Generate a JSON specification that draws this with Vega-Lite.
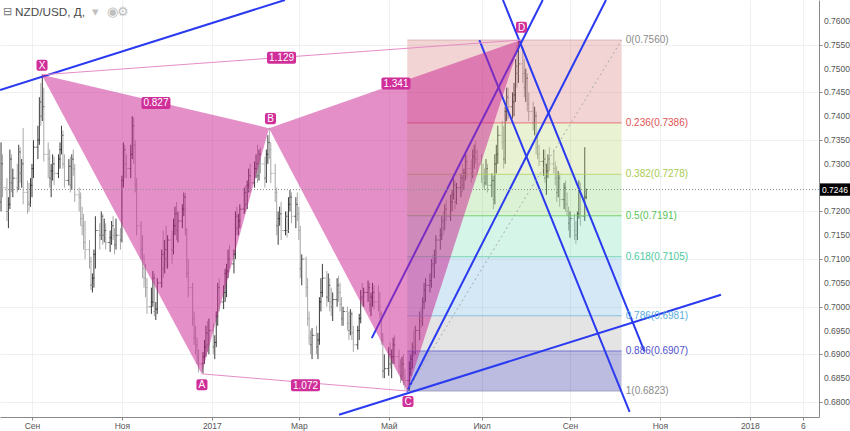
{
"$schema":"https://vega.github.io/schema/vega-lite/v6.json",
"width":819,"height":417,
"autosize":{"type":"none"},
"padding":{"left":0,"top":0,"right":31,"bottom":14},
"background":"#ffffff",
"config":{"view":{"stroke":null},"font":"Liberation Sans"},
"datasets":{
"bars":[
{"d":"2016-08-11","o":0.7220,"h":0.7345,"l":0.7200,"c":0.7300},
{"d":"2016-08-12","o":0.7300,"h":0.7320,"l":0.7230,"c":0.7250},
{"d":"2016-08-15","o":0.7250,"h":0.7270,"l":0.7180,"c":0.7200},
{"d":"2016-08-16","o":0.7200,"h":0.7230,"l":0.7165,"c":0.7215},
{"d":"2016-08-17","o":0.7215,"h":0.7330,"l":0.7205,"c":0.7310},
{"d":"2016-08-18","o":0.7310,"h":0.7320,"l":0.7240,"c":0.7260},
{"d":"2016-08-19","o":0.7260,"h":0.7290,"l":0.7230,"c":0.7270},
{"d":"2016-08-22","o":0.7270,"h":0.7300,"l":0.7240,"c":0.7250},
{"d":"2016-08-23","o":0.7250,"h":0.7340,"l":0.7245,"c":0.7325},
{"d":"2016-08-24","o":0.7325,"h":0.7335,"l":0.7260,"c":0.7280},
{"d":"2016-08-25","o":0.7280,"h":0.7310,"l":0.7250,"c":0.7300},
{"d":"2016-08-26","o":0.7300,"h":0.7375,"l":0.7215,"c":0.7240},
{"d":"2016-08-29","o":0.7240,"h":0.7265,"l":0.7195,"c":0.7220},
{"d":"2016-08-30","o":0.7220,"h":0.7260,"l":0.7200,"c":0.7215},
{"d":"2016-08-31","o":0.7215,"h":0.7270,"l":0.7210,"c":0.7255},
{"d":"2016-09-01","o":0.7255,"h":0.7300,"l":0.7230,"c":0.7290},
{"d":"2016-09-02","o":0.7290,"h":0.7350,"l":0.7270,"c":0.7335},
{"d":"2016-09-05","o":0.7335,"h":0.7380,"l":0.7310,"c":0.7350},
{"d":"2016-09-06","o":0.7350,"h":0.7440,"l":0.7340,"c":0.7430},
{"d":"2016-09-07","o":0.7430,"h":0.7470,"l":0.7380,"c":0.7400},
{"d":"2016-09-08","o":0.7400,"h":0.7488,"l":0.7390,"c":0.7420},
{"d":"2016-09-09","o":0.7420,"h":0.7460,"l":0.7305,"c":0.7320},
{"d":"2016-09-12","o":0.7320,"h":0.7345,"l":0.7270,"c":0.7310},
{"d":"2016-09-13","o":0.7310,"h":0.7330,"l":0.7250,"c":0.7270},
{"d":"2016-09-14","o":0.7270,"h":0.7300,"l":0.7230,"c":0.7285},
{"d":"2016-09-15","o":0.7285,"h":0.7320,"l":0.7265,"c":0.7300},
{"d":"2016-09-16","o":0.7300,"h":0.7315,"l":0.7255,"c":0.7280},
{"d":"2016-09-19","o":0.7280,"h":0.7320,"l":0.7270,"c":0.7310},
{"d":"2016-09-20","o":0.7310,"h":0.7345,"l":0.7290,"c":0.7330},
{"d":"2016-09-21","o":0.7330,"h":0.7380,"l":0.7320,"c":0.7360},
{"d":"2016-09-22","o":0.7360,"h":0.7370,"l":0.7290,"c":0.7300},
{"d":"2016-09-23","o":0.7300,"h":0.7320,"l":0.7250,"c":0.7265},
{"d":"2016-09-26","o":0.7265,"h":0.7310,"l":0.7255,"c":0.7295},
{"d":"2016-09-27","o":0.7295,"h":0.7315,"l":0.7240,"c":0.7255},
{"d":"2016-09-28","o":0.7255,"h":0.7320,"l":0.7245,"c":0.7310},
{"d":"2016-09-29","o":0.7310,"h":0.7330,"l":0.7275,"c":0.7290},
{"d":"2016-09-30","o":0.7290,"h":0.7300,"l":0.7220,"c":0.7235},
{"d":"2016-10-03","o":0.7235,"h":0.7250,"l":0.7200,"c":0.7230},
{"d":"2016-10-04","o":0.7230,"h":0.7240,"l":0.7170,"c":0.7185},
{"d":"2016-10-05","o":0.7185,"h":0.7210,"l":0.7150,"c":0.7170},
{"d":"2016-10-06","o":0.7170,"h":0.7195,"l":0.7120,"c":0.7135},
{"d":"2016-10-07","o":0.7135,"h":0.7180,"l":0.7100,"c":0.7120},
{"d":"2016-10-10","o":0.7120,"h":0.7140,"l":0.7080,"c":0.7095},
{"d":"2016-10-11","o":0.7095,"h":0.7105,"l":0.7035,"c":0.7045},
{"d":"2016-10-12","o":0.7045,"h":0.7070,"l":0.7030,"c":0.7060},
{"d":"2016-10-13","o":0.7060,"h":0.7120,"l":0.7040,"c":0.7110},
{"d":"2016-10-14","o":0.7110,"h":0.7190,"l":0.7080,"c":0.7160},
{"d":"2016-10-17","o":0.7160,"h":0.7175,"l":0.7120,"c":0.7150},
{"d":"2016-10-18","o":0.7150,"h":0.7200,"l":0.7140,"c":0.7190},
{"d":"2016-10-19","o":0.7190,"h":0.7195,"l":0.7130,"c":0.7150},
{"d":"2016-10-20","o":0.7150,"h":0.7185,"l":0.7135,"c":0.7160},
{"d":"2016-10-21","o":0.7160,"h":0.7175,"l":0.7120,"c":0.7135},
{"d":"2016-10-24","o":0.7135,"h":0.7160,"l":0.7115,"c":0.7145},
{"d":"2016-10-25","o":0.7145,"h":0.7180,"l":0.7130,"c":0.7170},
{"d":"2016-10-26","o":0.7170,"h":0.7190,"l":0.7140,"c":0.7150},
{"d":"2016-10-27","o":0.7150,"h":0.7165,"l":0.7110,"c":0.7130},
{"d":"2016-10-28","o":0.7130,"h":0.7185,"l":0.7120,"c":0.7150},
{"d":"2016-10-31","o":0.7150,"h":0.7165,"l":0.7120,"c":0.7140},
{"d":"2016-11-01","o":0.7140,"h":0.7275,"l":0.7135,"c":0.7265},
{"d":"2016-11-02","o":0.7265,"h":0.7345,"l":0.7250,"c":0.7330},
{"d":"2016-11-03","o":0.7330,"h":0.7340,"l":0.7270,"c":0.7300},
{"d":"2016-11-04","o":0.7300,"h":0.7320,"l":0.7270,"c":0.7290},
{"d":"2016-11-07","o":0.7290,"h":0.7340,"l":0.7270,"c":0.7320},
{"d":"2016-11-08","o":0.7320,"h":0.7400,"l":0.7310,"c":0.7380},
{"d":"2016-11-09","o":0.7380,"h":0.7398,"l":0.7300,"c":0.7340},
{"d":"2016-11-10","o":0.7340,"h":0.7350,"l":0.7240,"c":0.7255},
{"d":"2016-11-11","o":0.7255,"h":0.7270,"l":0.7150,"c":0.7170},
{"d":"2016-11-14","o":0.7170,"h":0.7180,"l":0.7100,"c":0.7120},
{"d":"2016-11-15","o":0.7120,"h":0.7150,"l":0.7060,"c":0.7080},
{"d":"2016-11-16","o":0.7080,"h":0.7110,"l":0.7040,"c":0.7060},
{"d":"2016-11-17","o":0.7060,"h":0.7090,"l":0.7020,"c":0.7040},
{"d":"2016-11-18","o":0.7040,"h":0.7060,"l":0.6985,"c":0.7000},
{"d":"2016-11-21","o":0.7000,"h":0.7040,"l":0.6985,"c":0.7010},
{"d":"2016-11-22","o":0.7010,"h":0.7075,"l":0.7000,"c":0.7060},
{"d":"2016-11-23","o":0.7060,"h":0.7070,"l":0.6980,"c":0.6990},
{"d":"2016-11-24","o":0.6990,"h":0.7010,"l":0.6972,"c":0.6995},
{"d":"2016-11-25","o":0.6995,"h":0.7060,"l":0.6985,"c":0.7050},
{"d":"2016-11-28","o":0.7050,"h":0.7120,"l":0.7040,"c":0.7110},
{"d":"2016-11-29","o":0.7110,"h":0.7160,"l":0.7060,"c":0.7080},
{"d":"2016-11-30","o":0.7080,"h":0.7140,"l":0.7070,"c":0.7120},
{"d":"2016-12-01","o":0.7120,"h":0.7170,"l":0.7080,"c":0.7100},
{"d":"2016-12-02","o":0.7100,"h":0.7150,"l":0.7080,"c":0.7140},
{"d":"2016-12-05","o":0.7140,"h":0.7160,"l":0.7090,"c":0.7120},
{"d":"2016-12-06","o":0.7120,"h":0.7185,"l":0.7110,"c":0.7170},
{"d":"2016-12-07","o":0.7170,"h":0.7210,"l":0.7150,"c":0.7195},
{"d":"2016-12-08","o":0.7195,"h":0.7220,"l":0.7140,"c":0.7160},
{"d":"2016-12-09","o":0.7160,"h":0.7200,"l":0.7135,"c":0.7180},
{"d":"2016-12-12","o":0.7180,"h":0.7215,"l":0.7165,"c":0.7205},
{"d":"2016-12-13","o":0.7205,"h":0.7240,"l":0.7190,"c":0.7230},
{"d":"2016-12-14","o":0.7230,"h":0.7238,"l":0.7150,"c":0.7160},
{"d":"2016-12-15","o":0.7160,"h":0.7165,"l":0.7060,"c":0.7070},
{"d":"2016-12-16","o":0.7070,"h":0.7100,"l":0.7020,"c":0.7040},
{"d":"2016-12-19","o":0.7040,"h":0.7050,"l":0.6960,"c":0.6975},
{"d":"2016-12-20","o":0.6975,"h":0.6990,"l":0.6920,"c":0.6935},
{"d":"2016-12-21","o":0.6935,"h":0.6960,"l":0.6900,"c":0.6920},
{"d":"2016-12-22","o":0.6920,"h":0.6935,"l":0.6880,"c":0.6895},
{"d":"2016-12-23","o":0.6895,"h":0.6910,"l":0.6862,"c":0.6880},
{"d":"2016-12-26","o":0.6880,"h":0.6905,"l":0.6860,"c":0.6895},
{"d":"2016-12-27","o":0.6895,"h":0.6930,"l":0.6880,"c":0.6915},
{"d":"2016-12-28","o":0.6915,"h":0.6960,"l":0.6895,"c":0.6945},
{"d":"2016-12-29","o":0.6945,"h":0.6970,"l":0.6905,"c":0.6920},
{"d":"2016-12-30","o":0.6920,"h":0.6975,"l":0.6900,"c":0.6950},
{"d":"2017-01-02","o":0.6950,"h":0.6965,"l":0.6900,"c":0.6915},
{"d":"2017-01-03","o":0.6915,"h":0.6940,"l":0.6890,"c":0.6925},
{"d":"2017-01-04","o":0.6925,"h":0.6990,"l":0.6915,"c":0.6980},
{"d":"2017-01-05","o":0.6980,"h":0.7050,"l":0.6960,"c":0.7040},
{"d":"2017-01-06","o":0.7040,"h":0.7060,"l":0.6990,"c":0.7010},
{"d":"2017-01-09","o":0.7010,"h":0.7045,"l":0.6995,"c":0.7030},
{"d":"2017-01-10","o":0.7030,"h":0.7080,"l":0.7010,"c":0.7070},
{"d":"2017-01-11","o":0.7070,"h":0.7090,"l":0.7020,"c":0.7075},
{"d":"2017-01-12","o":0.7075,"h":0.7120,"l":0.7060,"c":0.7100},
{"d":"2017-01-13","o":0.7100,"h":0.7130,"l":0.7080,"c":0.7090},
{"d":"2017-01-16","o":0.7090,"h":0.7120,"l":0.7070,"c":0.7110},
{"d":"2017-01-17","o":0.7110,"h":0.7200,"l":0.7100,"c":0.7190},
{"d":"2017-01-18","o":0.7190,"h":0.7210,"l":0.7150,"c":0.7165},
{"d":"2017-01-19","o":0.7165,"h":0.7195,"l":0.7150,"c":0.7180},
{"d":"2017-01-20","o":0.7180,"h":0.7215,"l":0.7165,"c":0.7205},
{"d":"2017-01-23","o":0.7205,"h":0.7250,"l":0.7195,"c":0.7240},
{"d":"2017-01-24","o":0.7240,"h":0.7255,"l":0.7200,"c":0.7215},
{"d":"2017-01-25","o":0.7215,"h":0.7265,"l":0.7205,"c":0.7255},
{"d":"2017-01-26","o":0.7255,"h":0.7290,"l":0.7240,"c":0.7275},
{"d":"2017-01-27","o":0.7275,"h":0.7300,"l":0.7240,"c":0.7260},
{"d":"2017-01-30","o":0.7260,"h":0.7305,"l":0.7250,"c":0.7290},
{"d":"2017-01-31","o":0.7290,"h":0.7320,"l":0.7270,"c":0.7300},
{"d":"2017-02-01","o":0.7300,"h":0.7340,"l":0.7260,"c":0.7275},
{"d":"2017-02-02","o":0.7275,"h":0.7330,"l":0.7265,"c":0.7320},
{"d":"2017-02-03","o":0.7320,"h":0.7335,"l":0.7280,"c":0.7300},
{"d":"2017-02-06","o":0.7300,"h":0.7315,"l":0.7250,"c":0.7270},
{"d":"2017-02-07","o":0.7270,"h":0.7330,"l":0.7260,"c":0.7320},
{"d":"2017-02-08","o":0.7320,"h":0.7360,"l":0.7300,"c":0.7345},
{"d":"2017-02-09","o":0.7345,"h":0.7376,"l":0.7310,"c":0.7330},
{"d":"2017-02-10","o":0.7330,"h":0.7345,"l":0.7260,"c":0.7280},
{"d":"2017-02-13","o":0.7280,"h":0.7300,"l":0.7220,"c":0.7240},
{"d":"2017-02-14","o":0.7240,"h":0.7250,"l":0.7150,"c":0.7170},
{"d":"2017-02-15","o":0.7170,"h":0.7200,"l":0.7130,"c":0.7185},
{"d":"2017-02-16","o":0.7185,"h":0.7210,"l":0.7170,"c":0.7195},
{"d":"2017-02-17","o":0.7195,"h":0.7220,"l":0.7140,"c":0.7160},
{"d":"2017-02-20","o":0.7160,"h":0.7200,"l":0.7150,"c":0.7190},
{"d":"2017-02-21","o":0.7190,"h":0.7200,"l":0.7145,"c":0.7160},
{"d":"2017-02-22","o":0.7160,"h":0.7230,"l":0.7155,"c":0.7215},
{"d":"2017-02-23","o":0.7215,"h":0.7245,"l":0.7200,"c":0.7230},
{"d":"2017-02-24","o":0.7230,"h":0.7240,"l":0.7175,"c":0.7190},
{"d":"2017-02-27","o":0.7190,"h":0.7230,"l":0.7165,"c":0.7215},
{"d":"2017-02-28","o":0.7215,"h":0.7240,"l":0.7180,"c":0.7195},
{"d":"2017-03-01","o":0.7195,"h":0.7210,"l":0.7140,"c":0.7160},
{"d":"2017-03-02","o":0.7160,"h":0.7170,"l":0.7060,"c":0.7080},
{"d":"2017-03-03","o":0.7080,"h":0.7110,"l":0.7045,"c":0.7100},
{"d":"2017-03-06","o":0.7100,"h":0.7105,"l":0.7020,"c":0.7040},
{"d":"2017-03-07","o":0.7040,"h":0.7060,"l":0.6960,"c":0.6975},
{"d":"2017-03-08","o":0.6975,"h":0.6990,"l":0.6920,"c":0.6935},
{"d":"2017-03-09","o":0.6935,"h":0.6950,"l":0.6900,"c":0.6920},
{"d":"2017-03-10","o":0.6920,"h":0.6955,"l":0.6890,"c":0.6940},
{"d":"2017-03-13","o":0.6940,"h":0.6960,"l":0.6900,"c":0.6915},
{"d":"2017-03-14","o":0.6915,"h":0.6945,"l":0.6890,"c":0.6930},
{"d":"2017-03-15","o":0.6930,"h":0.7020,"l":0.6920,"c":0.7010},
{"d":"2017-03-16","o":0.7010,"h":0.7060,"l":0.6990,"c":0.7030},
{"d":"2017-03-17","o":0.7030,"h":0.7090,"l":0.7020,"c":0.7060},
{"d":"2017-03-20","o":0.7060,"h":0.7075,"l":0.7000,"c":0.7020},
{"d":"2017-03-21","o":0.7020,"h":0.7070,"l":0.7010,"c":0.7045},
{"d":"2017-03-22","o":0.7045,"h":0.7060,"l":0.6990,"c":0.7010},
{"d":"2017-03-23","o":0.7010,"h":0.7040,"l":0.6980,"c":0.7000},
{"d":"2017-03-24","o":0.7000,"h":0.7030,"l":0.6970,"c":0.7015},
{"d":"2017-03-27","o":0.7015,"h":0.7060,"l":0.7000,"c":0.7045},
{"d":"2017-03-28","o":0.7045,"h":0.7065,"l":0.7010,"c":0.7030},
{"d":"2017-03-29","o":0.7030,"h":0.7050,"l":0.6990,"c":0.7005},
{"d":"2017-03-30","o":0.7005,"h":0.7020,"l":0.6960,"c":0.6975},
{"d":"2017-03-31","o":0.6975,"h":0.7000,"l":0.6960,"c":0.6990},
{"d":"2017-04-03","o":0.6990,"h":0.7000,"l":0.6950,"c":0.6965},
{"d":"2017-04-04","o":0.6965,"h":0.6990,"l":0.6930,"c":0.6950},
{"d":"2017-04-05","o":0.6950,"h":0.6995,"l":0.6940,"c":0.6985},
{"d":"2017-04-06","o":0.6985,"h":0.6990,"l":0.6930,"c":0.6945},
{"d":"2017-04-07","o":0.6945,"h":0.6960,"l":0.6905,"c":0.6920},
{"d":"2017-04-10","o":0.6920,"h":0.6960,"l":0.6910,"c":0.6950},
{"d":"2017-04-11","o":0.6950,"h":0.6985,"l":0.6930,"c":0.6975},
{"d":"2017-04-12","o":0.6975,"h":0.7035,"l":0.6965,"c":0.7020},
{"d":"2017-04-13","o":0.7020,"h":0.7050,"l":0.7000,"c":0.7015},
{"d":"2017-04-14","o":0.7015,"h":0.7040,"l":0.7000,"c":0.7030},
{"d":"2017-04-17","o":0.7030,"h":0.7055,"l":0.7010,"c":0.7040},
{"d":"2017-04-18","o":0.7040,"h":0.7050,"l":0.6990,"c":0.7005},
{"d":"2017-04-19","o":0.7005,"h":0.7030,"l":0.6980,"c":0.7020},
{"d":"2017-04-20","o":0.7020,"h":0.7050,"l":0.7000,"c":0.7030},
{"d":"2017-04-21","o":0.7030,"h":0.7045,"l":0.6995,"c":0.7010},
{"d":"2017-04-24","o":0.7010,"h":0.7045,"l":0.6990,"c":0.7000},
{"d":"2017-04-25","o":0.7000,"h":0.7030,"l":0.6975,"c":0.6985},
{"d":"2017-04-26","o":0.6985,"h":0.6990,"l":0.6920,"c":0.6930},
{"d":"2017-04-27","o":0.6930,"h":0.6945,"l":0.6850,"c":0.6865},
{"d":"2017-04-28","o":0.6865,"h":0.6900,"l":0.6850,"c":0.6870},
{"d":"2017-05-01","o":0.6870,"h":0.6915,"l":0.6855,"c":0.6900},
{"d":"2017-05-02","o":0.6900,"h":0.6925,"l":0.6870,"c":0.6880},
{"d":"2017-05-03","o":0.6880,"h":0.6910,"l":0.6850,"c":0.6895},
{"d":"2017-05-04","o":0.6895,"h":0.6935,"l":0.6880,"c":0.6920},
{"d":"2017-05-05","o":0.6920,"h":0.6940,"l":0.6880,"c":0.6895},
{"d":"2017-05-08","o":0.6895,"h":0.6910,"l":0.6860,"c":0.6875},
{"d":"2017-05-09","o":0.6875,"h":0.6890,"l":0.6840,"c":0.6855},
{"d":"2017-05-10","o":0.6855,"h":0.6895,"l":0.6845,"c":0.6880},
{"d":"2017-05-11","o":0.6880,"h":0.6900,"l":0.6835,"c":0.6850},
{"d":"2017-05-12","o":0.6850,"h":0.6870,"l":0.6826,"c":0.6845},
{"d":"2017-05-15","o":0.6845,"h":0.6885,"l":0.6823,"c":0.6870},
{"d":"2017-05-16","o":0.6870,"h":0.6900,"l":0.6855,"c":0.6890},
{"d":"2017-05-17","o":0.6890,"h":0.6925,"l":0.6870,"c":0.6915},
{"d":"2017-05-18","o":0.6915,"h":0.6950,"l":0.6895,"c":0.6905},
{"d":"2017-05-19","o":0.6905,"h":0.6960,"l":0.6900,"c":0.6950},
{"d":"2017-05-22","o":0.6950,"h":0.6990,"l":0.6930,"c":0.6980},
{"d":"2017-05-23","o":0.6980,"h":0.7000,"l":0.6955,"c":0.6970},
{"d":"2017-05-24","o":0.6970,"h":0.7020,"l":0.6960,"c":0.7010},
{"d":"2017-05-25","o":0.7010,"h":0.7050,"l":0.6995,"c":0.7035},
{"d":"2017-05-26","o":0.7035,"h":0.7060,"l":0.7010,"c":0.7045},
{"d":"2017-05-29","o":0.7045,"h":0.7070,"l":0.7030,"c":0.7055},
{"d":"2017-05-30","o":0.7055,"h":0.7100,"l":0.7040,"c":0.7090},
{"d":"2017-05-31","o":0.7090,"h":0.7110,"l":0.7060,"c":0.7085},
{"d":"2017-06-01","o":0.7085,"h":0.7120,"l":0.7060,"c":0.7105},
{"d":"2017-06-02","o":0.7105,"h":0.7150,"l":0.7090,"c":0.7140},
{"d":"2017-06-05","o":0.7140,"h":0.7165,"l":0.7120,"c":0.7150},
{"d":"2017-06-06","o":0.7150,"h":0.7190,"l":0.7140,"c":0.7180},
{"d":"2017-06-07","o":0.7180,"h":0.7200,"l":0.7150,"c":0.7165},
{"d":"2017-06-08","o":0.7165,"h":0.7215,"l":0.7160,"c":0.7205},
{"d":"2017-06-09","o":0.7205,"h":0.7225,"l":0.7180,"c":0.7190},
{"d":"2017-06-12","o":0.7190,"h":0.7235,"l":0.7180,"c":0.7220},
{"d":"2017-06-13","o":0.7220,"h":0.7245,"l":0.7200,"c":0.7235},
{"d":"2017-06-14","o":0.7235,"h":0.7270,"l":0.7225,"c":0.7255},
{"d":"2017-06-15","o":0.7255,"h":0.7265,"l":0.7205,"c":0.7220},
{"d":"2017-06-16","o":0.7220,"h":0.7260,"l":0.7215,"c":0.7250},
{"d":"2017-06-19","o":0.7250,"h":0.7280,"l":0.7230,"c":0.7270},
{"d":"2017-06-20","o":0.7270,"h":0.7300,"l":0.7240,"c":0.7255},
{"d":"2017-06-21","o":0.7255,"h":0.7290,"l":0.7245,"c":0.7280},
{"d":"2017-06-22","o":0.7280,"h":0.7320,"l":0.7265,"c":0.7305},
{"d":"2017-06-23","o":0.7305,"h":0.7320,"l":0.7270,"c":0.7290},
{"d":"2017-06-26","o":0.7290,"h":0.7310,"l":0.7260,"c":0.7280},
{"d":"2017-06-27","o":0.7280,"h":0.7330,"l":0.7270,"c":0.7315},
{"d":"2017-06-28","o":0.7315,"h":0.7340,"l":0.7290,"c":0.7325},
{"d":"2017-06-29","o":0.7325,"h":0.7350,"l":0.7300,"c":0.7310},
{"d":"2017-06-30","o":0.7310,"h":0.7330,"l":0.7280,"c":0.7300},
{"d":"2017-07-03","o":0.7300,"h":0.7320,"l":0.7260,"c":0.7280},
{"d":"2017-07-04","o":0.7280,"h":0.7300,"l":0.7250,"c":0.7270},
{"d":"2017-07-05","o":0.7270,"h":0.7290,"l":0.7245,"c":0.7260},
{"d":"2017-07-06","o":0.7260,"h":0.7310,"l":0.7255,"c":0.7290},
{"d":"2017-07-07","o":0.7290,"h":0.7300,"l":0.7240,"c":0.7255},
{"d":"2017-07-10","o":0.7255,"h":0.7280,"l":0.7230,"c":0.7265},
{"d":"2017-07-11","o":0.7265,"h":0.7275,"l":0.7205,"c":0.7225},
{"d":"2017-07-12","o":0.7225,"h":0.7320,"l":0.7215,"c":0.7300},
{"d":"2017-07-13","o":0.7300,"h":0.7340,"l":0.7280,"c":0.7320},
{"d":"2017-07-14","o":0.7320,"h":0.7380,"l":0.7300,"c":0.7360},
{"d":"2017-07-17","o":0.7360,"h":0.7390,"l":0.7330,"c":0.7345},
{"d":"2017-07-18","o":0.7345,"h":0.7380,"l":0.7290,"c":0.7310},
{"d":"2017-07-19","o":0.7310,"h":0.7420,"l":0.7300,"c":0.7410},
{"d":"2017-07-20","o":0.7410,"h":0.7460,"l":0.7390,"c":0.7440},
{"d":"2017-07-21","o":0.7440,"h":0.7460,"l":0.7395,"c":0.7420},
{"d":"2017-07-24","o":0.7420,"h":0.7450,"l":0.7395,"c":0.7430},
{"d":"2017-07-25","o":0.7430,"h":0.7470,"l":0.7400,"c":0.7445},
{"d":"2017-07-26","o":0.7445,"h":0.7520,"l":0.7430,"c":0.7505},
{"d":"2017-07-27","o":0.7505,"h":0.7550,"l":0.7460,"c":0.7490},
{"d":"2017-07-28","o":0.7490,"h":0.7558,"l":0.7470,"c":0.7510},
{"d":"2017-07-31","o":0.7510,"h":0.7545,"l":0.7470,"c":0.7490},
{"d":"2017-08-01","o":0.7490,"h":0.7520,"l":0.7440,"c":0.7460},
{"d":"2017-08-02","o":0.7460,"h":0.7500,"l":0.7430,"c":0.7480},
{"d":"2017-08-03","o":0.7480,"h":0.7490,"l":0.7410,"c":0.7425},
{"d":"2017-08-04","o":0.7425,"h":0.7450,"l":0.7390,"c":0.7410},
{"d":"2017-08-07","o":0.7410,"h":0.7430,"l":0.7370,"c":0.7385},
{"d":"2017-08-08","o":0.7385,"h":0.7420,"l":0.7360,"c":0.7400},
{"d":"2017-08-09","o":0.7400,"h":0.7410,"l":0.7320,"c":0.7335},
{"d":"2017-08-10","o":0.7335,"h":0.7360,"l":0.7310,"c":0.7320},
{"d":"2017-08-11","o":0.7320,"h":0.7340,"l":0.7295,"c":0.7305},
{"d":"2017-08-14","o":0.7305,"h":0.7330,"l":0.7275,"c":0.7310},
{"d":"2017-08-15","o":0.7310,"h":0.7330,"l":0.7260,"c":0.7270},
{"d":"2017-08-16","o":0.7270,"h":0.7300,"l":0.7235,"c":0.7285},
{"d":"2017-08-17","o":0.7285,"h":0.7320,"l":0.7270,"c":0.7310},
{"d":"2017-08-18","o":0.7310,"h":0.7335,"l":0.7285,"c":0.7300},
{"d":"2017-08-21","o":0.7300,"h":0.7330,"l":0.7280,"c":0.7290},
{"d":"2017-08-22","o":0.7290,"h":0.7305,"l":0.7255,"c":0.7270},
{"d":"2017-08-23","o":0.7270,"h":0.7295,"l":0.7220,"c":0.7240},
{"d":"2017-08-24","o":0.7240,"h":0.7285,"l":0.7230,"c":0.7270},
{"d":"2017-08-25","o":0.7270,"h":0.7280,"l":0.7210,"c":0.7225},
{"d":"2017-08-28","o":0.7225,"h":0.7260,"l":0.7205,"c":0.7250},
{"d":"2017-08-29","o":0.7250,"h":0.7265,"l":0.7200,"c":0.7215},
{"d":"2017-08-30","o":0.7215,"h":0.7240,"l":0.7190,"c":0.7200},
{"d":"2017-08-31","o":0.7200,"h":0.7210,"l":0.7160,"c":0.7175},
{"d":"2017-09-01","o":0.7175,"h":0.7200,"l":0.7145,"c":0.7185},
{"d":"2017-09-04","o":0.7185,"h":0.7195,"l":0.7140,"c":0.7160},
{"d":"2017-09-05","o":0.7160,"h":0.7180,"l":0.7132,"c":0.7150},
{"d":"2017-09-06","o":0.7150,"h":0.7200,"l":0.7140,"c":0.7195},
{"d":"2017-09-07","o":0.7195,"h":0.7265,"l":0.7185,"c":0.7240},
{"d":"2017-09-08","o":0.7240,"h":0.7260,"l":0.7170,"c":0.7190},
{"d":"2017-09-11","o":0.7190,"h":0.7335,"l":0.7180,"c":0.7230},
{"d":"2017-09-12","o":0.7230,"h":0.7248,"l":0.7226,"c":0.7246}
],
"bands":[
{"b":"b1","p1":0.7560,"p2":0.7386,"d1":"2017-05-13T14:00:00Z","d2":"2017-10-06T00:00:00Z"},
{"b":"b2","p1":0.7386,"p2":0.7278,"d1":"2017-05-13T14:00:00Z","d2":"2017-10-06T00:00:00Z"},
{"b":"b3","p1":0.7278,"p2":0.7191,"d1":"2017-05-13T14:00:00Z","d2":"2017-10-06T00:00:00Z"},
{"b":"b4","p1":0.7191,"p2":0.7105,"d1":"2017-05-13T14:00:00Z","d2":"2017-10-06T00:00:00Z"},
{"b":"b5","p1":0.7105,"p2":0.6981,"d1":"2017-05-13T14:00:00Z","d2":"2017-10-06T00:00:00Z"},
{"b":"b6","p1":0.6981,"p2":0.6907,"d1":"2017-05-13T14:00:00Z","d2":"2017-10-06T00:00:00Z"},
{"b":"b7","p1":0.6907,"p2":0.6823,"d1":"2017-05-13T14:00:00Z","d2":"2017-10-06T00:00:00Z"}
],
"levels":[
{"r":"0","p":0.7560,"t":"0(0.7560)","d1":"2017-05-13T14:00:00Z","d2":"2017-10-06T00:00:00Z","dl":"2017-10-08T20:00:00Z"},
{"r":"0.236","p":0.7386,"t":"0.236(0.7386)","d1":"2017-05-13T14:00:00Z","d2":"2017-10-06T00:00:00Z","dl":"2017-10-08T20:00:00Z"},
{"r":"0.382","p":0.7278,"t":"0.382(0.7278)","d1":"2017-05-13T14:00:00Z","d2":"2017-10-06T00:00:00Z","dl":"2017-10-08T20:00:00Z"},
{"r":"0.5","p":0.7191,"t":"0.5(0.7191)","d1":"2017-05-13T14:00:00Z","d2":"2017-10-06T00:00:00Z","dl":"2017-10-08T20:00:00Z"},
{"r":"0.618","p":0.7105,"t":"0.618(0.7105)","d1":"2017-05-13T14:00:00Z","d2":"2017-10-06T00:00:00Z","dl":"2017-10-08T20:00:00Z"},
{"r":"0.786","p":0.6981,"t":"0.786(0.6981)","d1":"2017-05-13T14:00:00Z","d2":"2017-10-06T00:00:00Z","dl":"2017-10-08T20:00:00Z"},
{"r":"0.886","p":0.6907,"t":"0.886(0.6907)","d1":"2017-05-13T14:00:00Z","d2":"2017-10-06T00:00:00Z","dl":"2017-10-08T20:00:00Z"},
{"r":"1","p":0.6823,"t":"1(0.6823)","d1":"2017-05-13T14:00:00Z","d2":"2017-10-06T00:00:00Z","dl":"2017-10-08T20:00:00Z"}
],
"tri":[
{"t":"XAB","k":1,"d":"2016-09-07T14:00:00Z","p":0.7487},
{"t":"XAB","k":2,"d":"2016-12-25T02:00:00Z","p":0.6859},
{"t":"XAB","k":3,"d":"2017-02-08T19:00:00Z","p":0.7375},
{"t":"BCD","k":1,"d":"2017-02-08T19:00:00Z","p":0.7375},
{"t":"BCD","k":2,"d":"2017-05-13T14:00:00Z","p":0.6823},
{"t":"BCD","k":3,"d":"2017-07-29T14:00:00Z","p":0.7560}
],
"blue":[
{"d":"2016-08-10T07:00:00Z","p":0.7455,"d2":"2017-02-19T14:00:00Z","p2":0.76441},
{"d":"2017-03-28T07:00:00Z","p":0.6773,"d2":"2017-12-12T10:00:00Z","p2":0.7025},
{"d":"2017-04-19T12:00:00Z","p":0.6934,"d2":"2017-08-13T12:00:00Z","p2":0.76441},
{"d":"2017-05-13T10:00:00Z","p":0.6822,"d2":"2017-09-25T10:00:00Z","p2":0.76441},
{"d":"2017-07-01T12:00:00Z","p":0.7560,"d2":"2017-10-11T10:00:00Z","p2":0.6779},
{"d":"2017-07-17T12:00:00Z","p":0.76441,"d2":"2017-10-21T12:00:00Z","p2":0.6906}
],
"pink":[
{"d":"2016-09-07T14:00:00Z","p":0.7487,"d2":"2017-07-29T14:00:00Z","p2":0.7560},
{"d":"2016-12-25T02:00:00Z","p":0.6859,"d2":"2017-05-13T14:00:00Z","p2":0.6823}
],
"diag":[
{"d":"2017-05-13T14:00:00Z","p":0.6823,"d2":"2017-10-06T00:00:00Z","p2":0.7560}
],
"tags":[
{"t":"X","k":"v","d":"2016-09-07T19:00:00Z","p":0.7507},
{"t":"A","k":"v","d":"2016-12-25T07:00:00Z","p":0.6836},
{"t":"B","k":"v","d":"2017-02-09T19:00:00Z","p":0.7395},
{"t":"C","k":"v","d":"2017-05-14T02:00:00Z","p":0.6801},
{"t":"D","k":"v","d":"2017-07-30T02:00:00Z","p":0.7587},
{"t":"0.827","k":"r","d":"2016-11-24T02:00:00Z","p":0.7428},
{"t":"1.129","k":"r","d":"2017-02-17T07:00:00Z","p":0.7523},
{"t":"1.341","k":"r","d":"2017-05-05T22:00:00Z","p":0.7469},
{"t":"1.072","k":"r","d":"2017-03-05T13:00:00Z","p":0.6835}
],
"ylab":[
{"v":0.680,"t":"0.6800"},{"v":0.685,"t":"0.6850"},{"v":0.690,"t":"0.6900"},{"v":0.695,"t":"0.6950"},
{"v":0.700,"t":"0.7000"},{"v":0.705,"t":"0.7050"},{"v":0.710,"t":"0.7100"},{"v":0.715,"t":"0.7150"},
{"v":0.720,"t":"0.7200"},{"v":0.730,"t":"0.7300"},{"v":0.735,"t":"0.7350"},{"v":0.740,"t":"0.7400"},
{"v":0.745,"t":"0.7450"},{"v":0.750,"t":"0.7500"},{"v":0.755,"t":"0.7550"},{"v":0.760,"t":"0.7600"}
],
"last":[
{"d":"2018-02-17T14:00:00Z","d2":"2018-03-10T00:00:00Z","p":0.7259,"p2":0.7233,"dm":"2018-02-27T19:00:00Z","v":0.7246,"t":"0.7246"}
],
"head":[
{"t":"⊟","d":"2016-08-12T08:00:00Z","p":0.7619,"k":"icon"},
{"t":"NZD/USD, Д,","d":"2016-08-20T11:00:00Z","p":0.7619,"k":"name"},
{"t":"▾","d":"2016-10-11T17:00:00Z","p":0.7619,"k":"caret"},
{"t":"◉","d":"2016-10-21T14:00:00Z","p":0.7619,"k":"caret"},
{"t":"⚙","d":"2016-10-29T00:00:00Z","p":0.7619,"k":"caret"}
]
},
"resolve":{"scale":{"color":"independent","fill":"independent","stroke":"independent"}},
"layer":[
{"data":{"name":"bars"},
 "mark":{"type":"rule","strokeWidth":1,"clip":true},
 "encoding":{
  "x":{"field":"d","type":"temporal",
   "scale":{"type":"utc","domain":[{"year":2016,"month":8,"date":10,"hours":7,"utc":true},{"year":2018,"month":2,"date":16,"hours":22,"utc":true}]},
   "axis":{"title":null,"values":[{"year":2016,"month":9,"date":1,"utc":true},{"year":2016,"month":11,"date":1,"utc":true},{"year":2017,"month":1,"date":1,"utc":true},{"year":2017,"month":3,"date":1,"utc":true},{"year":2017,"month":5,"date":1,"utc":true},{"year":2017,"month":7,"date":3,"utc":true},{"year":2017,"month":9,"date":1,"utc":true},{"year":2017,"month":11,"date":1,"utc":true},{"year":2018,"month":1,"date":1,"utc":true},{"year":2018,"month":2,"date":6,"utc":true}],
    "labelExpr":"utcdate(datum.value) > 5 ? '' + utcdate(datum.value) : (utcmonth(datum.value) == 0 ? '' + utcyear(datum.value) : ['Янв','Фев','Мар','Апр','Май','Июн','Июл','Авг','Сен','Окт','Ноя','Дек'][utcmonth(datum.value)])",
    "grid":true,"gridColor":"#f0f0f0","gridWidth":1,"tickSize":3,"tickColor":"#888888","domainColor":"#888888","labelFontSize":8.5,"labelColor":"#555555","labelFont":"Liberation Sans","labelPadding":1,"labelFlush":false,"labelOverlap":false}},
  "y":{"field":"l","type":"quantitative",
   "scale":{"domain":[0.67684,0.76441],"nice":false,"zero":false},
   "axis":{"title":null,"orient":"right","values":[0.68,0.685,0.69,0.695,0.7,0.705,0.71,0.715,0.72,0.73,0.735,0.74,0.745,0.75,0.755,0.76],"labels":false,"grid":true,"gridColor":"#f0f0f0","tickSize":3,"tickColor":"#888888","domainColor":"#888888"}},
  "y2":{"field":"h"},
  "color":{"condition":{"test":"datum.c >= datum.o","value":"#3c3c3c"},"value":"#a8a8a8"}
 }},
{"data":{"name":"bars"},
 "mark":{"type":"tick","orient":"horizontal","size":2,"thickness":1,"xOffset":-1,"clip":true},
 "encoding":{"x":{"field":"d","type":"temporal"},"y":{"field":"o","type":"quantitative"},
  "color":{"condition":{"test":"datum.c >= datum.o","value":"#3c3c3c"},"value":"#a8a8a8"}}},
{"data":{"name":"bars"},
 "mark":{"type":"tick","orient":"horizontal","size":2,"thickness":1,"xOffset":1,"clip":true},
 "encoding":{"x":{"field":"d","type":"temporal"},"y":{"field":"c","type":"quantitative"},
  "color":{"condition":{"test":"datum.c >= datum.o","value":"#3c3c3c"},"value":"#a8a8a8"}}},
{"data":{"name":"bands"},
 "mark":{"type":"rect","opacity":0.3},
 "encoding":{"x":{"field":"d1","type":"temporal"},"x2":{"field":"d2"},"y":{"field":"p1","type":"quantitative"},"y2":{"field":"p2"},
  "fill":{"field":"b","type":"nominal","legend":null,"scale":{"domain":["b1","b2","b3","b4","b5","b6","b7"],"range":["#d47070","#b9d470","#8ad470","#70deb2","#70b2de","#a5a5a5","#20209b"]}}}},
{"data":{"name":"levels"},
 "mark":{"type":"rule","strokeWidth":1,"opacity":0.85},
 "encoding":{"x":{"field":"d1","type":"temporal"},"x2":{"field":"d2"},"y":{"field":"p","type":"quantitative"},
  "stroke":{"field":"r","type":"nominal","legend":null,"scale":{"domain":["0","0.236","0.382","0.5","0.618","0.786","0.886","1"],"range":["#d8b0b0","#e06666","#b5d26a","#66cc66","#66d4aa","#7ab8e0","#6666cc","#9999bb"]}}}},
{"data":{"name":"blue"},
 "mark":{"type":"rule","strokeWidth":2,"color":"#2a3af0","clip":true},
 "encoding":{"x":{"field":"d","type":"temporal"},"x2":{"field":"d2"},"y":{"field":"p","type":"quantitative"},"y2":{"field":"p2"}}},
{"data":{"name":"tri"},
 "mark":{"type":"line","fill":"#c9208f","fillOpacity":0.5,"strokeWidth":0,"interpolate":"linear"},
 "encoding":{"x":{"field":"d","type":"temporal"},"y":{"field":"p","type":"quantitative"},"detail":{"field":"t","type":"nominal"},"order":{"field":"k","type":"quantitative"}}},
{"data":{"name":"pink"},
 "mark":{"type":"rule","strokeWidth":1,"color":"#e58cc5"},
 "encoding":{"x":{"field":"d","type":"temporal"},"x2":{"field":"d2"},"y":{"field":"p","type":"quantitative"},"y2":{"field":"p2"}}},
{"data":{"name":"diag"},
 "mark":{"type":"rule","strokeWidth":1,"color":"#aaaaaa","strokeDash":[2,3]},
 "encoding":{"x":{"field":"d","type":"temporal"},"x2":{"field":"d2"},"y":{"field":"p","type":"quantitative"},"y2":{"field":"p2"}}},
{"data":{"name":"last"},
 "mark":{"type":"rule","strokeWidth":1,"color":"#8c8c8c","strokeDash":[1,2]},
 "encoding":{"y":{"field":"v","type":"quantitative"}}},
{"data":{"name":"tags"},
 "mark":{"type":"point","filled":true,"size":144,"opacity":1,"color":"#d02f9a","strokeWidth":0},
 "encoding":{"x":{"field":"d","type":"temporal"},"y":{"field":"p","type":"quantitative"},
  "shape":{"field":"k","type":"nominal","legend":null,"scale":{"domain":["v","r"],"range":["M-0.58,-0.92L0.58,-0.92Q0.92,-0.92 0.92,-0.58L0.92,0.58Q0.92,0.92 0.58,0.92L-0.58,0.92Q-0.92,0.92 -0.92,0.58L-0.92,-0.58Q-0.92,-0.92 -0.58,-0.92Z","M-2.09,-1L2.09,-1Q2.42,-1 2.42,-0.67L2.42,0.67Q2.42,1 2.09,1L-2.09,1Q-2.42,1 -2.42,0.67L-2.42,-0.67Q-2.42,-1 -2.09,-1Z"]}}}},
{"data":{"name":"tags"},
 "mark":{"type":"text","color":"#ffffff","fontSize":10,"font":"Liberation Sans","align":"center","baseline":"middle","dy":0.5},
 "encoding":{"x":{"field":"d","type":"temporal"},"y":{"field":"p","type":"quantitative"},"text":{"field":"t"},
  "fontWeight":{"condition":{"test":"datum.k == 'v'","value":"bold"},"value":"normal"}}},
{"data":{"name":"levels"},
 "mark":{"type":"text","fontSize":10,"font":"Liberation Sans","align":"left","baseline":"middle"},
 "encoding":{"x":{"field":"dl","type":"temporal"},"y":{"field":"p","type":"quantitative"},"text":{"field":"t"},
  "color":{"field":"r","type":"nominal","legend":null,"scale":{"domain":["0","0.236","0.382","0.5","0.618","0.786","0.886","1"],"range":["#8a8a8a","#e05252","#a8cc50","#55c455","#4cc9a0","#5aaee0","#5050cc","#8a8a8a"]}}}},
{"data":{"name":"ylab"},
 "mark":{"type":"text","fontSize":8.5,"font":"Liberation Sans","align":"left","baseline":"middle","color":"#555555","clip":false},
 "encoding":{"x":{"datum":{"year":2018,"month":2,"date":20,"hours":7,"utc":true},"type":"temporal"},"y":{"field":"v","type":"quantitative"},"text":{"field":"t"}}},
{"data":{"name":"last"},
 "mark":{"type":"rect","color":"#000000","clip":false},
 "encoding":{"x":{"field":"d","type":"temporal"},"x2":{"field":"d2"},"y":{"field":"p","type":"quantitative"},"y2":{"field":"p2"}}},
{"data":{"name":"last"},
 "mark":{"type":"text","color":"#ffffff","fontSize":8.5,"font":"Liberation Sans","align":"center","baseline":"middle","clip":false},
 "encoding":{"x":{"field":"dm","type":"temporal"},"y":{"field":"v","type":"quantitative"},"text":{"field":"t"}}},
{"data":{"name":"head"},
 "mark":{"type":"text","font":"Liberation Sans","align":"left","baseline":"middle"},
 "encoding":{"x":{"field":"d","type":"temporal"},"y":{"field":"p","type":"quantitative"},"text":{"field":"t"},
  "size":{"field":"k","type":"nominal","legend":null,"scale":{"domain":["icon","name","caret"],"range":[11,12.5,10]}},
  "color":{"field":"k","type":"nominal","legend":null,"scale":{"domain":["icon","name","caret"],"range":["#777777","#4a4a4a","#c0c0c0"]}}}}
]
}
